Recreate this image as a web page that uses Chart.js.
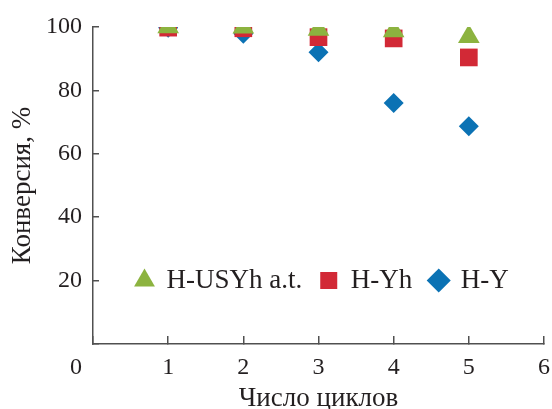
<!DOCTYPE html>
<html>
<head>
<meta charset="utf-8">
<script src="https://cdn.jsdelivr.net/npm/chart.js@4.4.1/dist/chart.umd.min.js"></script>
<style>
  html, body { margin: 0; padding: 0; background: #fff; }
  #wrap { width: 552px; height: 409px; }
</style>
</head>
<body>
<div id="wrap"><canvas id="conversionChart"></canvas></div>
<script>
// Data
const cycles = [1, 2, 3, 4, 5];
const xTicks = [0, 1, 2, 3, 4, 5, 6];
const yTicks = [0, 20, 40, 60, 80, 100];
const seriesNames = ['H-USYh a.t.', 'H-Yh', 'H-Y'];
const usyhAt = [100, 99.9, 99.2, 98.7, 96.9];
const yh = [99.8, 99.6, 96.8, 96.4, 90.4];
const hy = [99.8, 97.9, 92.0, 76.0, 68.7];
const xTitle = 'Число циклов';
const yTitle = 'Конверсия, %';

// Styles
const serif = "'Liberation Serif', 'Times New Roman', Tinos, serif";
const textColor = '#231f20';
const axisColor = '#505050';
const colors = { green: '#8cb33f', red: '#d22936', blue: '#0b72b4' };

const toPoints = vals => vals.map((v, i) => ({ x: cycles[i], y: v }));

// legend sits inside the plot area, level with the 20 tick
const legendInside = {
  id: 'legendInside',
  beforeDraw(chart) {
    const lg = chart.legend;
    const pad = lg.options.labels.padding;
    const cy = chart.scales.y.getPixelForValue(20);
    lg.left = 136 - pad;
    lg.right = chart.width;
    lg.top = cy - pad - 13.5;
    lg.bottom = cy + 30;
  }
};

// shared origin label "0", set left of the corner
const originLabel = {
  id: 'originLabel',
  afterDraw(chart) {
    const xs = chart.scales.x;
    const c = chart.ctx;
    c.save();
    c.font = '24px ' + serif;
    c.fillStyle = textColor;
    c.textAlign = 'center';
    c.textBaseline = 'middle';
    c.fillText(String(xTicks[0]), xs.getPixelForValue(xTicks[0]) - 17, xs.top - 8 + 17 + 14.4);
    c.restore();
  }
};

const ctx = document.getElementById('conversionChart').getContext('2d');
new Chart(ctx, {
  type: 'scatter',
  data: {
    datasets: [
      {
        label: seriesNames[0],
        data: toPoints(usyhAt),
        pointStyle: 'triangle',
        pointRadius: 12.5,
        backgroundColor: colors.green,
        borderColor: colors.green,
        borderWidth: 0,
      },
      {
        label: seriesNames[1],
        data: toPoints(yh),
        pointStyle: 'rect',
        pointRadius: 12.5,
        backgroundColor: colors.red,
        borderColor: colors.red,
        borderWidth: 0,
      },
      {
        label: seriesNames[2],
        data: toPoints(hy),
        pointStyle: 'rectRot',
        pointRadius: 10,
        backgroundColor: colors.blue,
        borderColor: colors.blue,
        borderWidth: 0,
      },
    ],
  },
  options: {
    responsive: true,
    maintainAspectRatio: false,
    animation: false,
    layout: { autoPadding: false, padding: { top: 26, right: 8, left: 0, bottom: 0 } },
    plugins: {
      tooltip: { enabled: false },
      legend: {
        position: 'top',
        align: 'start',
        maxHeight: 1,
        labels: {
          usePointStyle: true,
          boxWidth: 17,
          boxHeight: 17,
          padding: 18,
          color: textColor,
          font: { family: serif, size: 27, lineHeight: 1 },
        },
      },
    },
    scales: {
      x: {
        type: 'linear',
        min: 0,
        max: 6,
        afterBuildTicks: s => { s.ticks = xTicks.map(v => ({ value: v })); },
        afterFit: s => { s.height = 65; s.paddingLeft = 0; s.paddingRight = 0; },
        border: { color: axisColor, width: 1.5 },
        grid: { drawOnChartArea: false, tickLength: -8, color: axisColor, lineWidth: 1.5 },
        ticks: {
          padding: 17,
          color: textColor,
          font: { family: serif, size: 24 },
          callback: v => (v === 0 ? '' : v),
        },
        title: {
          display: true,
          text: xTitle,
          color: textColor,
          font: { family: serif, size: 27, lineHeight: 1 },
          padding: { top: 0, bottom: -3 },
        },
      },
      y: {
        min: 0,
        max: 100,
        afterBuildTicks: s => { s.ticks = yTicks.map(v => ({ value: v })); },
        afterFit: s => { s.width = 93; s.paddingTop = 0; s.paddingBottom = 0; },
        border: { color: axisColor, width: 1.5 },
        grid: { drawOnChartArea: false, tickLength: -6, color: axisColor, lineWidth: 1.5 },
        ticks: {
          padding: 17,
          color: textColor,
          font: { family: serif, size: 24 },
          callback: v => (v === 0 ? '' : v),
        },
        title: {
          display: true,
          text: yTitle,
          color: textColor,
          font: { family: serif, size: 27 },
          padding: { top: 7, bottom: 10 },
        },
      },
    },
  },
  plugins: [legendInside, originLabel],
});
</script>
</body>
</html>
